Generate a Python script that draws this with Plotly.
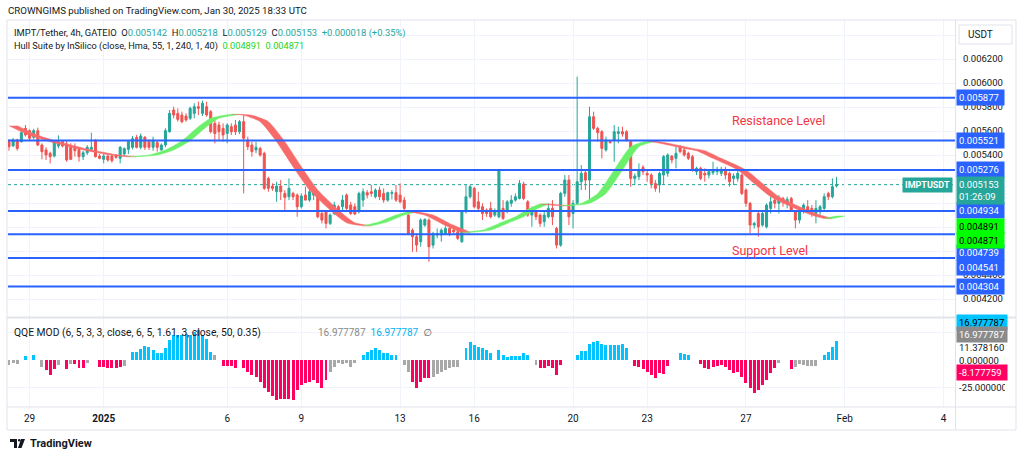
import pandas as pd
import plotly.graph_objects as go

# ---------------- data ----------------
bar_start = "2024-12-28 04:00"
bar_count = 202

opens = [0.005511, 0.005475, 0.005525, 0.005511, 0.005622, 0.005603, 0.005547, 0.005603, 0.005483, 0.005442,
         0.005414, 0.005391, 0.005475, 0.005511, 0.005492, 0.005469, 0.005464, 0.005447, 0.005386, 0.005419,
         0.005447, 0.005525, 0.005391, 0.005364, 0.005391, 0.005391, 0.005400, 0.005372, 0.005408, 0.005447,
         0.005464, 0.005547, 0.005464, 0.005547, 0.005511, 0.005464, 0.005503, 0.005442, 0.005483, 0.005594,
         0.005775, 0.005747, 0.005733, 0.005725, 0.005706, 0.005747, 0.005803, 0.005747, 0.005803, 0.005761,
         0.005664, 0.005650, 0.005622, 0.005580, 0.005636, 0.005650, 0.005594, 0.005678, 0.005525, 0.005483,
         0.005442, 0.005455, 0.005414, 0.005205, 0.005141, 0.005094, 0.005141, 0.005080, 0.005052, 0.005080,
         0.005066, 0.004969, 0.005066, 0.005024, 0.005066, 0.005066, 0.004913, 0.004927, 0.004830, 0.004913,
         0.004969, 0.004969, 0.005066, 0.004983, 0.004969, 0.004927, 0.005024, 0.005086, 0.005094, 0.005052,
         0.005108, 0.005080, 0.005024, 0.005080, 0.005086, 0.005066, 0.005024, 0.004899, 0.004774, 0.004719,
         0.004677, 0.004816, 0.004858, 0.004649, 0.004733, 0.004733, 0.004746, 0.004788, 0.004774, 0.004760,
         0.004677, 0.004927, 0.005052, 0.005122, 0.005010, 0.004969, 0.004941, 0.004955, 0.004899, 0.004885,
         0.004955, 0.004941, 0.004997, 0.005024, 0.005038, 0.005158, 0.005010, 0.004899, 0.004927, 0.004899,
         0.004844, 0.004885, 0.004955, 0.004788, 0.004649, 0.005080, 0.005191, 0.004913, 0.004997, 0.005177,
         0.005252, 0.005191, 0.005719, 0.005622, 0.005594, 0.005442, 0.005511, 0.005525, 0.005580, 0.005594,
         0.005594, 0.005511, 0.005205, 0.005219, 0.005297, 0.005247, 0.005233, 0.005163, 0.005150, 0.005233,
         0.005247, 0.005391, 0.005372, 0.005464, 0.005442, 0.005414, 0.005386, 0.005261, 0.005289, 0.005247,
         0.005233, 0.005252, 0.005261, 0.005247, 0.005280, 0.005247, 0.005205, 0.005205, 0.005233, 0.005108,
         0.004997, 0.004816, 0.004913, 0.004816, 0.004802, 0.004955, 0.005024, 0.004997, 0.005038, 0.004997,
         0.005038, 0.004927, 0.004858, 0.004941, 0.004969, 0.004955, 0.004913, 0.004927, 0.004955, 0.005080,
         0.005052, 0.005142]

highs = [0.005530, 0.005541, 0.005536, 0.005597, 0.005650, 0.005614, 0.005619, 0.005628, 0.005497, 0.005464,
         0.005428, 0.005525, 0.005564, 0.005525, 0.005525, 0.005497, 0.005497, 0.005464, 0.005436, 0.005483,
         0.005586, 0.005530, 0.005408, 0.005408, 0.005400, 0.005405, 0.005408, 0.005475, 0.005464, 0.005525,
         0.005558, 0.005567, 0.005580, 0.005558, 0.005530, 0.005553, 0.005525, 0.005497, 0.005622, 0.005775,
         0.005803, 0.005789, 0.005761, 0.005747, 0.005803, 0.005831, 0.005845, 0.005853, 0.005845, 0.005775,
         0.005692, 0.005678, 0.005664, 0.005664, 0.005664, 0.005692, 0.005692, 0.005733, 0.005553, 0.005511,
         0.005511, 0.005469, 0.005428, 0.005219, 0.005164, 0.005177, 0.005191, 0.005108, 0.005205, 0.005094,
         0.005080, 0.005080, 0.005136, 0.005150, 0.005136, 0.005080, 0.004927, 0.004941, 0.004913, 0.005010,
         0.004983, 0.005066, 0.005080, 0.005010, 0.004997, 0.005094, 0.005122, 0.005108, 0.005150, 0.005122,
         0.005136, 0.005122, 0.005094, 0.005108, 0.005150, 0.005163, 0.005052, 0.004913, 0.004788, 0.004746,
         0.004872, 0.004872, 0.004872, 0.004760, 0.004788, 0.004788, 0.004816, 0.004802, 0.004788, 0.004774,
         0.004941, 0.005150, 0.005150, 0.005136, 0.005094, 0.004997, 0.004955, 0.005010, 0.004955, 0.005280,
         0.005024, 0.005024, 0.005066, 0.005080, 0.005191, 0.005177, 0.005024, 0.004969, 0.004941, 0.004913,
         0.004941, 0.004997, 0.005024, 0.004802, 0.005094, 0.005233, 0.005233, 0.005024, 0.006053, 0.005316,
         0.005275, 0.005803, 0.005761, 0.005636, 0.005608, 0.005553, 0.005525, 0.005650, 0.005636, 0.005636,
         0.005608, 0.005525, 0.005247, 0.005330, 0.005316, 0.005275, 0.005247, 0.005191, 0.005261, 0.005400,
         0.005414, 0.005400, 0.005469, 0.005483, 0.005469, 0.005428, 0.005400, 0.005302, 0.005302, 0.005289,
         0.005275, 0.005344, 0.005302, 0.005302, 0.005302, 0.005261, 0.005247, 0.005275, 0.005247, 0.005122,
         0.005010, 0.004844, 0.004927, 0.004927, 0.004997, 0.005052, 0.005052, 0.005066, 0.005052, 0.005052,
         0.005052, 0.004941, 0.004955, 0.004997, 0.005024, 0.004983, 0.005024, 0.004983, 0.005080, 0.005094,
         0.005205, 0.005218]

lows = [0.005436, 0.005470, 0.005436, 0.005503, 0.005553, 0.005525, 0.005530, 0.005475, 0.005364, 0.005358,
        0.005330, 0.005380, 0.005455, 0.005464, 0.005344, 0.005358, 0.005386, 0.005344, 0.005358, 0.005400,
        0.005428, 0.005380, 0.005364, 0.005330, 0.005344, 0.005336, 0.005369, 0.005330, 0.005386, 0.005408,
        0.005447, 0.005455, 0.005447, 0.005442, 0.005442, 0.005436, 0.005428, 0.005436, 0.005464, 0.005586,
        0.005706, 0.005678, 0.005664, 0.005678, 0.005692, 0.005706, 0.005733, 0.005725, 0.005719, 0.005580,
        0.005497, 0.005525, 0.005511, 0.005497, 0.005567, 0.005567, 0.005575, 0.005080, 0.005442, 0.005386,
        0.005414, 0.005386, 0.005108, 0.005094, 0.005102, 0.005010, 0.005024, 0.004927, 0.005024, 0.005024,
        0.004885, 0.004955, 0.005024, 0.005010, 0.005024, 0.004872, 0.004830, 0.004788, 0.004816, 0.004899,
        0.004913, 0.004941, 0.004927, 0.004899, 0.004899, 0.004913, 0.004969, 0.005038, 0.005052, 0.005038,
        0.005024, 0.005002, 0.005010, 0.005030, 0.005010, 0.004997, 0.004941, 0.004733, 0.004594, 0.004594,
        0.004635, 0.004802, 0.004510, 0.004621, 0.004705, 0.004677, 0.004733, 0.004724, 0.004746, 0.004691,
        0.004669, 0.004913, 0.005038, 0.004955, 0.004941, 0.004858, 0.004885, 0.004872, 0.004885, 0.004872,
        0.004858, 0.004913, 0.004969, 0.005010, 0.005030, 0.005024, 0.004885, 0.004802, 0.004858, 0.004802,
        0.004802, 0.004872, 0.004816, 0.004621, 0.004635, 0.005052, 0.004816, 0.004788, 0.004983, 0.005108,
        0.005108, 0.005010, 0.005608, 0.005511, 0.005372, 0.005428, 0.005497, 0.005344, 0.005497, 0.005553,
        0.005511, 0.005136, 0.005150, 0.005191, 0.005233, 0.005177, 0.005122, 0.005094, 0.005086, 0.005150,
        0.005219, 0.005330, 0.005289, 0.005414, 0.005386, 0.005358, 0.005261, 0.005233, 0.005191, 0.005177,
        0.005205, 0.005233, 0.005233, 0.005225, 0.005197, 0.005136, 0.005150, 0.005177, 0.005066, 0.004969,
        0.004746, 0.004788, 0.004719, 0.004802, 0.004788, 0.004913, 0.004955, 0.004913, 0.004969, 0.004955,
        0.004927, 0.004788, 0.004830, 0.004913, 0.004927, 0.004885, 0.004830, 0.004899, 0.004941, 0.005024,
        0.005038, 0.005129]

closes = [0.005469, 0.005525, 0.005455, 0.005586, 0.005567, 0.005539, 0.005603, 0.005483, 0.005428, 0.005400,
          0.005386, 0.005511, 0.005511, 0.005475, 0.005358, 0.005364, 0.005436, 0.005386, 0.005419, 0.005464,
          0.005464, 0.005386, 0.005372, 0.005391, 0.005358, 0.005353, 0.005380, 0.005464, 0.005453, 0.005511,
          0.005536, 0.005464, 0.005558, 0.005464, 0.005464, 0.005525, 0.005464, 0.005483, 0.005603, 0.005747,
          0.005733, 0.005697, 0.005678, 0.005692, 0.005789, 0.005803, 0.005789, 0.005831, 0.005733, 0.005594,
          0.005580, 0.005594, 0.005567, 0.005650, 0.005594, 0.005594, 0.005678, 0.005539, 0.005469, 0.005428,
          0.005464, 0.005400, 0.005122, 0.005122, 0.005122, 0.005141, 0.005094, 0.005047, 0.005122, 0.005052,
          0.004969, 0.005058, 0.005024, 0.005094, 0.005122, 0.004885, 0.004858, 0.004830, 0.004899, 0.004983,
          0.004941, 0.005024, 0.004955, 0.004913, 0.004908, 0.005080, 0.005094, 0.005066, 0.005080, 0.005108,
          0.005052, 0.005024, 0.005086, 0.005086, 0.005024, 0.005010, 0.004955, 0.004746, 0.004719, 0.004649,
          0.004858, 0.004863, 0.004635, 0.004746, 0.004746, 0.004774, 0.004788, 0.004746, 0.004760, 0.004705,
          0.004927, 0.005052, 0.005136, 0.004969, 0.004955, 0.004913, 0.004913, 0.004885, 0.004927, 0.005275,
          0.004872, 0.005010, 0.005024, 0.005052, 0.005163, 0.005038, 0.004899, 0.004927, 0.004885, 0.004830,
          0.004899, 0.004955, 0.004885, 0.004649, 0.005080, 0.005191, 0.004885, 0.004997, 0.005177, 0.005247,
          0.005191, 0.005719, 0.005622, 0.005586, 0.005455, 0.005525, 0.005503, 0.005594, 0.005594, 0.005575,
          0.005525, 0.005205, 0.005225, 0.005275, 0.005261, 0.005233, 0.005163, 0.005122, 0.005247, 0.005386,
          0.005400, 0.005358, 0.005414, 0.005428, 0.005400, 0.005372, 0.005275, 0.005289, 0.005205, 0.005233,
          0.005261, 0.005275, 0.005280, 0.005280, 0.005233, 0.005177, 0.005225, 0.005247, 0.005080, 0.004997,
          0.004816, 0.004830, 0.004802, 0.004913, 0.004983, 0.005010, 0.004997, 0.005038, 0.005010, 0.005030,
          0.004941, 0.004858, 0.004941, 0.004983, 0.004941, 0.004913, 0.004955, 0.004969, 0.005052, 0.005052,
          0.005136, 0.005153]
last_change = 0.000018
last_change_pct = 0.35

# Hull Suite (HMA 55) readings at selected bars
hull_dates = ["2024-12-28 04:00", "2024-12-29 00:00", "2024-12-29 20:00", "2024-12-31 00:00", "2025-01-01 04:00",
              "2025-01-02 00:00", "2025-01-02 20:00", "2025-01-03 12:00", "2025-01-04 04:00", "2025-01-04 20:00",
              "2025-01-05 08:00", "2025-01-06 04:00", "2025-01-06 16:00", "2025-01-07 08:00", "2025-01-08 00:00",
              "2025-01-08 16:00", "2025-01-09 08:00", "2025-01-10 04:00", "2025-01-10 20:00", "2025-01-11 12:00",
              "2025-01-12 04:00", "2025-01-12 20:00", "2025-01-13 08:00", "2025-01-14 00:00", "2025-01-14 16:00",
              "2025-01-15 12:00", "2025-01-16 08:00", "2025-01-17 00:00", "2025-01-17 16:00", "2025-01-18 04:00",
              "2025-01-18 16:00", "2025-01-19 12:00", "2025-01-20 08:00", "2025-01-21 00:00", "2025-01-21 16:00",
              "2025-01-22 08:00", "2025-01-23 00:00", "2025-01-23 16:00", "2025-01-24 12:00", "2025-01-25 00:00",
              "2025-01-25 16:00", "2025-01-26 16:00", "2025-01-27 08:00", "2025-01-28 00:00", "2025-01-28 20:00",
              "2025-01-29 16:00", "2025-01-30 04:00", "2025-01-30 16:00"]
hull_vals = [0.005644, 0.005564, 0.005511, 0.005450, 0.005403,
             0.005386, 0.005400, 0.005442, 0.005519, 0.005636,
             0.005706, 0.005739, 0.005731, 0.005678, 0.005511,
             0.005302, 0.005108, 0.004941, 0.004835, 0.004810,
             0.004844, 0.004899, 0.004927, 0.004899, 0.004830,
             0.004755, 0.004774, 0.004830, 0.004885, 0.004947,
             0.004991, 0.004977, 0.004997, 0.005080, 0.005275,
             0.005469, 0.005516, 0.005492, 0.005455, 0.005436,
             0.005372, 0.005275, 0.005163, 0.005052, 0.004969,
             0.004899, 0.004871, 0.004891]
hull_last = [0.004891, 0.004871]

# horizontal support / resistance levels
levels = [0.005877, 0.005521, 0.005276, 0.004934, 0.004739, 0.004541, 0.004304]
last_price = 0.005153

# QQE MOD histogram (value, state: 1 = up, -1 = down, 0 = neutral)
qqe_hist = [-4.5, -3, -3.6, None, 4, None, 4.5, None, -6, -9,
            -13.6, -8.5, -4.5, None, -8, -3.6, -4, -7, -7, -3,
            None, None, -6, -6, -7, -7.5, -7.5, -6, -5.5, None,
            7.6, 7.6, 10, 12.7, 11.5, 9, 6, 6, 10.6, 18,
            22.7, 22.7, 22.7, 24, 22.7, 25.8, 27, 22.7, 19, 7,
            4.5, None, -5, -5, -5, -7.5, None, -7.5, -10.6, -13.6,
            -15.8, -19.7, -25.8, -28.8, -33, -36, -35.7, -35.5, -35, -36,
            -27, -22.7, -20.6, -19.7, -18, -21, -25.8, -18, -10.6, -6,
            -3, -4, -3, -6, -3, None, 4.5, 7.6, 9, 11,
            9, 6, 6, 5, 4.5, None, -4.5, -11, -20, -25.8,
            -19.7, -16, -16.7, -15, -12.5, -10.6, -9, -7.6, -6, -6,
            None, 10.6, 16.7, 13.6, 12, 10.6, 9, 6, None, 9,
            4.5, 3, 3.6, 3.6, 3.6, 6.7, 4.5, None, -4.5, -7.6,
            -7.6, -5.5, -7.6, -13.6, -4.5, None, None, None, 4.5, 8,
            8, 14.5, 16, 17.3, 14.5, 13.6, 13.6, 13.6, 13.6, 14.5,
            10.6, None, -5.5, -6.7, -8.5, -10.6, -13.6, -16.7, -12, -12.7,
            -5.5, None, None, 6, 5.5, 4.5, None, None, -3.6, -7.6,
            -8.5, -6, -5.5, -4.5, -6, -9, -12, -10.6, -15, -21,
            -25.8, -30, -27, -22.7, -18, -12, -7.6, -3, None, None,
            -8.5, -6, -3.6, -4.5, -5.5, -5.5, -5.5, None, 4.5, 7.6,
            12, 16.977787]
qqe_state = [0, 0, 0, None, 1, None, 1, None, 0, -1,
             -1, -1, 0, None, -1, 0, -1, -1, -1, 0,
             None, None, -1, -1, -1, -1, -1, -1, 0, None,
             1, 1, 1, 1, 1, 1, 1, 1, 1, 1,
             1, 1, 1, 1, 1, 1, 1, 1, 1, 1,
             0, None, -1, -1, -1, -1, None, -1, -1, -1,
             -1, -1, -1, -1, -1, -1, -1, -1, -1, -1,
             -1, -1, -1, -1, -1, -1, -1, -1, 0, 0,
             0, 0, 0, 0, 0, None, 1, 1, 1, 1,
             1, 1, 1, 1, 1, None, 0, 0, -1, -1,
             -1, -1, -1, 0, 0, 0, 0, 0, 0, 0,
             None, 1, 1, 1, 1, 1, 1, 1, None, 1,
             1, 1, 1, 1, 1, 1, 1, None, 0, -1,
             -1, -1, -1, -1, -1, None, None, None, 1, 1,
             1, 1, 1, 1, 1, 1, 1, 1, 1, 1,
             1, None, -1, -1, -1, -1, -1, -1, -1, -1,
             -1, None, None, 1, 1, 1, None, None, -1, -1,
             -1, -1, -1, -1, -1, -1, -1, -1, -1, -1,
             -1, -1, -1, -1, -1, -1, -1, 0, None, None,
             -1, 0, 0, 0, 0, 0, 0, None, 1, 1,
             1, 1]
qqe_last = [16.977787, 16.977787, 11.378160, -8.177759]

# time-axis ticks
x_tick_dates = ["2024-12-29", "2025-01-01", "2025-01-06", "2025-01-09", "2025-01-13", "2025-01-16",
                "2025-01-20", "2025-01-23", "2025-01-27", "2025-01-31", "2025-02-04"]
x_tick_text = ["29", "<b>2025</b>", "6", "9", "13", "16", "20", "23", "27", "Feb", "4"]

price_ticks = [0.0042, 0.0044, 0.0046, 0.0048, 0.0050, 0.0052, 0.0054, 0.0056, 0.0058, 0.0060, 0.0062, 0.0064]
price_tick_text = ["0.004200", "0.004400", "", "", "", "", "0.005400", "0.005600", "0.005800", "0.006000", "0.006200", ""]

# ---------------- layout geometry (pixels) ----------------
W, H = 1024, 458
L, R = 8, 955          # plot left / right pixel
T, B = 20, 407         # plot top / bottom pixel
main_bottom = 317
qqe_top = 318
FONT = "Roboto, 'DejaVu Sans', sans-serif"
TXT = "#131722"
UP, DN = "#26a69a", "#ef5350"
BLUE = "#2962ff"


def px(x):
    return (x - L) / (R - L)


def py(y):
    return (B - y) / (B - T)


times = pd.date_range(bar_start, periods=bar_count, freq="4h")
x_left = times[0] - pd.Timedelta(minutes=58)
x_right = pd.Timestamp("2025-02-04 11:06")

fig = go.Figure()

# Hull band (HMA vs HMA two bars back), coloured by direction
hd = pd.to_datetime(hull_dates)
lag = pd.Timedelta(hours=8)
n = len(hull_vals)
dirs = [1 if hull_vals[k + 1] >= hull_vals[k] else -1 for k in range(n - 1)]
runs = []
s = 0
for k in range(1, n - 1):
    if dirs[k] != dirs[k - 1]:
        runs.append((s, k, dirs[k - 1]))
        s = k
runs.append((s, n - 1, dirs[-1]))
for a, b, d in runs:
    xa = list(hd[a:b + 1])
    xb = list(hd[a:b + 1] + lag)
    ya = hull_vals[a:b + 1]
    col = "#6cf06c" if d > 0 else "#f76a6a"
    fig.add_trace(go.Scatter(
        x=xa + xb[::-1], y=ya + ya[::-1], mode="lines", fill="toself",
        fillcolor=col, line=dict(width=0.5, color=col, shape="spline", smoothing=0.6),
        hoverinfo="skip", showlegend=False, xaxis="x", yaxis="y"))

# candles
fig.add_trace(go.Candlestick(
    x=times, open=opens, high=highs, low=lows, close=closes,
    increasing=dict(line=dict(color=UP, width=1), fillcolor=UP),
    decreasing=dict(line=dict(color=DN, width=1), fillcolor=DN),
    whiskerwidth=0, showlegend=False, xaxis="x", yaxis="y", hoverinfo="skip"))

# QQE histogram
state_col = {1: "#00c3ff", -1: "#ff0062", 0: "#a8a8a8"}
qx = [t for t, v in zip(times, qqe_hist) if v is not None]
qy = [v for v in qqe_hist if v is not None]
qc = [state_col[st] for v, st in zip(qqe_hist, qqe_state) if v is not None]
fig.add_trace(go.Bar(x=qx, y=qy, marker=dict(color=qc, line=dict(width=0)),
                     width=4 * 3600 * 1000 * 0.72, showlegend=False,
                     xaxis="x2", yaxis="y2", hoverinfo="skip"))

shapes = []
# level lines
for lv in levels:
    shapes.append(dict(type="line", xref="paper", yref="y", x0=0, x1=1, y0=lv, y1=lv,
                       line=dict(color=BLUE, width=2), layer="above"))
# last price dotted line
shapes.append(dict(type="line", xref="paper", yref="y", x0=0, x1=1, y0=last_price, y1=last_price,
                   line=dict(color=UP, width=1, dash="dot"), layer="below"))
# frame / separators
shapes += [
    dict(type="rect", xref="paper", yref="paper", x0=px(7), x1=px(1016), y0=py(430), y1=py(20),
         line=dict(color="#e0e3eb", width=1)),
    dict(type="line", xref="paper", yref="paper", x0=px(7), x1=px(1016), y0=py(317.5), y1=py(317.5),
         line=dict(color="#e0e3eb", width=2)),
    dict(type="line", xref="paper", yref="paper", x0=px(7), x1=px(1016), y0=py(407), y1=py(407),
         line=dict(color="#e0e3eb", width=1)),
    dict(type="line", xref="paper", yref="paper", x0=px(955.5), x1=px(955.5), y0=py(430), y1=py(20),
         line=dict(color="#e0e3eb", width=1)),
    dict(type="rect", xref="paper", yref="paper", x0=px(959), x1=px(1012), y0=py(44), y1=py(25),
         line=dict(color="#e0e3eb", width=1), fillcolor="white"),
]

ann = []


def text(x, y, t, size=10, color=TXT, anchor="left", bold=False):
    ann.append(dict(xref="paper", yref="paper", x=px(x), y=py(y), text=("<b>%s</b>" % t) if bold else t,
                    showarrow=False, xanchor=anchor, yanchor="middle",
                    font=dict(family=FONT, size=size, color=color)))


def span(t, c):
    return "<span style='color:%s'>%s</span>" % (c, t)


text(6, 11, "CROWNGIMS published on TradingView.com, Jan 30, 2025 18:33 UTC", size=9.7)
g = UP
text(12, 33, "IMPT/Tether, 4h, GATEIO  O" + span("%.6f" % opens[-1], g) + "  H" + span("%.6f" % highs[-1], g)
     + "  L" + span("%.6f" % lows[-1], g) + "  C" + span("%.6f" % closes[-1], g)
     + "  " + span("+%.6f (+%.2f%%)" % (last_change, last_change_pct), g), size=9.4)
text(12, 46, "Hull Suite by InSilico (close, Hma, 55, 1, 240, 1, 40)  "
     + span("%.6f" % hull_last[0], "#22d422") + "  " + span("%.6f" % hull_last[1], "#22d422"), size=9.2)
text(12, 332, "QQE MOD (6, 5, 3, 3, close, 6, 5, 1.61, 3, close, 50, 0.35)", size=10.3)
text(316, 332, span("%.6f" % qqe_last[0], "#8a8a8a") + "  " + span("%.6f" % qqe_last[1], "#00b2f0")
     + "  " + span("\u2205", "#555"), size=10)
text(730, 121, "Resistance Level", size=12.5, color="#f23645")
text(730, 251, "Support Level", size=12.5, color="#f23645")
text(966, 35, "USDT", size=10)
text(28, 443, "TradingView", size=11, bold=True)

# right axis labels
lvl_shift = {0.004739: -18, 0.004541: -9}
for lv in levels:
    ann.append(dict(xref="paper", yref="y", x=1, xshift=1, y=lv, yshift=lvl_shift.get(lv, 0),
                    text="%.6f" % lv, showarrow=False, xanchor="left", yanchor="middle",
                    bgcolor=BLUE, borderpad=2, width=43, align="left",
                    font=dict(family=FONT, size=9.5, color="white")))
for v, sh in zip(hull_last, [-10, -22]):
    ann.append(dict(xref="paper", yref="y", x=1, xshift=1, y=v, yshift=sh,
                    text="%.6f" % v, showarrow=False, xanchor="left", yanchor="middle",
                    bgcolor="#00ff00", borderpad=2, width=43, align="left",
                    font=dict(family=FONT, size=9.5, color="black")))
ann.append(dict(xref="paper", yref="y", x=1, xshift=1, y=last_price, yshift=-6,
                text="%.6f<br>01:26:09" % last_price, showarrow=False, xanchor="left", yanchor="middle",
                bgcolor=UP, borderpad=2, width=43, align="left",
                font=dict(family=FONT, size=9.5, color="white")))
ann.append(dict(xref="paper", yref="y", x=1, xshift=-2, y=last_price,
                text="<b>IMPTUSDT</b>", showarrow=False, xanchor="right", yanchor="middle",
                bgcolor=UP, borderpad=2, font=dict(family=FONT, size=9, color="white")))
# QQE axis labels
qqe_lab = [(qqe_last[0], 19, "#00c3ff", "black"), (qqe_last[1], 7, "#8a8a8a", "white"),
           (qqe_last[2], 0, None, TXT), (0.0, 0, None, TXT), (qqe_last[3], -3, "#ff0062", "white"),
           (-25.0, 0, None, TXT)]
for v, sh, bg, fc in qqe_lab:
    d = dict(xref="paper", yref="y2", x=1, xshift=1, y=v, yshift=sh, text="%.6f" % v,
             showarrow=False, xanchor="left", yanchor="middle", borderpad=2, width=46, align="left",
             font=dict(family=FONT, size=9.5, color=fc))
    if bg:
        d["bgcolor"] = bg
    ann.append(d)

# TradingView logo mark
shapes.append(dict(type="path", xref="paper", yref="paper",
                   path="M %f %f L %f %f L %f %f L %f %f L %f %f L %f %f Z" % (
                       px(10), py(439), px(17), py(439), px(17), py(448), px(14), py(448), px(14), py(442), px(10), py(442)),
                   fillcolor="#131722", line=dict(width=0)))
shapes.append(dict(type="circle", xref="paper", yref="paper", x0=px(18), x1=px(20.5), y0=py(441.5), y1=py(439),
                   fillcolor="#131722", line=dict(width=0)))
shapes.append(dict(type="path", xref="paper", yref="paper",
                   path="M %f %f L %f %f L %f %f L %f %f Z" % (px(21), py(439), px(25), py(439), px(21.5), py(448), px(18), py(448)),
                   fillcolor="#131722", line=dict(width=0)))

grid = "#f0f3fa"
fig.update_layout(
    width=W, height=H, margin=dict(l=L, r=W - R, t=T, b=H - B),
    paper_bgcolor="white", plot_bgcolor="white", showlegend=False, bargap=0,
    font=dict(family=FONT, size=10, color=TXT),
    xaxis=dict(domain=[0, 1], anchor="y", type="date", range=[x_left, x_right],
               tickvals=x_tick_dates, ticktext=x_tick_text, showticklabels=False,
               showgrid=True, gridcolor=grid, zeroline=False, rangeslider=dict(visible=False),
               showline=False, fixedrange=True),
    yaxis=dict(domain=[py(main_bottom), 1], anchor="x", side="right", range=[0.004050, 0.006525],
               tickvals=price_ticks, ticktext=price_tick_text, showgrid=True, gridcolor=grid,
               zeroline=False, ticks="", tickfont=dict(size=9.5, color=TXT), ticklabelstandoff=7),
    xaxis2=dict(domain=[0, 1], anchor="y2", type="date", range=[x_left, x_right], matches="x",
                tickvals=x_tick_dates, ticktext=x_tick_text, showgrid=True, gridcolor=grid,
                zeroline=False, ticks="", tickfont=dict(size=10, color=TXT), ticklabelstandoff=4),
    yaxis2=dict(domain=[0, py(qqe_top)], anchor="x2", side="right", range=[-42.7, 38.2],
                tickvals=[-25, 25], showticklabels=False, showgrid=True, gridcolor=grid,
                zeroline=False, ticks=""),
    shapes=shapes, annotations=ann,
)

fig.write_html("out.html", config={"displayModeBar": False},
               post_script="document.body.style.margin='0';document.body.style.overflow='hidden';")
